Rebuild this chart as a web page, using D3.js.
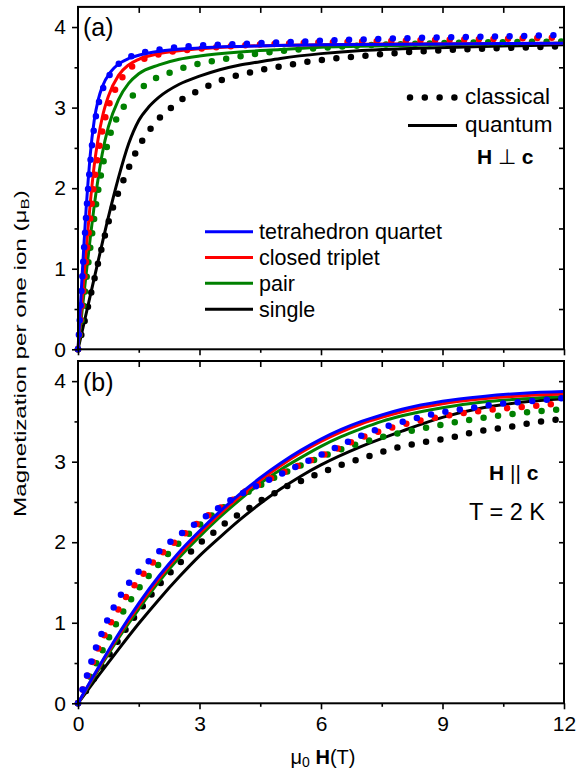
<!DOCTYPE html>
<html><head><meta charset="utf-8">
<script src="https://cdn.jsdelivr.net/npm/d3@7"></script>
<style>
html,body{margin:0;padding:0;background:#fff;}
svg{display:block;font-family:"Liberation Sans",Arial,Helvetica,sans-serif;}
</style></head><body>
<svg id="chart" width="577" height="772"></svg>
<script>
// Magnetization per ion vs field, T = 2 K. Pairs are [mu0 H (T), M (muB)].
const seriesNames  = ["tetrahedron quartet", "closed triplet", "pair", "single"];
const seriesColors = ["#0000ff", "#ff0000", "#008000", "#000000"];
const fieldTicks = [0, 3, 6, 9, 12];
const magTicks   = [0, 1, 2, 3, 4];

// (a) H perpendicular to c — quantum calculation
const aQuantumTetra   = [[0,0],[0.05,0.45],[0.1,0.9],[0.15,1.33],[0.2,1.74],[0.25,2.09],[0.3,2.4],[0.4,2.84],[0.5,3.1],[0.6,3.26],[0.8,3.44],[1.0,3.54],[1.25,3.61],[1.5,3.65],[2,3.7],[3,3.74],[4,3.76],[6,3.78],[9,3.79],[12,3.8]];
const aQuantumTriplet = [[0,0],[0.1,0.62],[0.2,1.22],[0.3,1.8],[0.4,2.28],[0.5,2.62],[0.6,2.88],[0.75,3.14],[1.0,3.4],[1.25,3.53],[1.5,3.6],[2,3.67],[3,3.73],[4,3.76],[6,3.78],[8,3.79],[12,3.8]];
const aQuantumPair    = [[0,0],[0.1,0.47],[0.2,0.93],[0.3,1.37],[0.4,1.78],[0.5,2.13],[0.6,2.43],[0.75,2.76],[1.0,3.1],[1.25,3.3],[1.5,3.42],[2,3.53],[2.5,3.6],[3,3.64],[4,3.69],[5,3.72],[6,3.75],[8,3.77],[10,3.79],[12,3.8]];
const aQuantumSingle  = [[0,0],[0.25,0.55],[0.5,1.1],[0.75,1.64],[1.0,2.13],[1.25,2.55],[1.5,2.84],[1.75,3.01],[2.0,3.13],[2.5,3.29],[3.0,3.39],[3.5,3.47],[4.0,3.53],[4.5,3.57],[5,3.61],[6,3.67],[7,3.71],[8,3.73],[10,3.76],[12,3.78]];

// (a) H perpendicular to c — classical calculation
const aClassicTetra   = [[0,0],[0.05,0.42],[0.1,0.85],[0.15,1.26],[0.2,1.65],[0.25,2.0],[0.3,2.3],[0.4,2.76],[0.5,3.03],[0.6,3.21],[0.8,3.42],[1.0,3.54],[1.25,3.62],[1.5,3.67],[2,3.72],[3,3.77],[4,3.79],[5.5,3.82],[8,3.86],[10,3.88],[12,3.9]];
const aClassicTriplet = [[0,0],[0.1,0.57],[0.2,1.12],[0.3,1.63],[0.4,2.07],[0.5,2.43],[0.62,2.76],[0.75,3.01],[1.0,3.3],[1.25,3.47],[1.5,3.57],[2,3.66],[3,3.73],[4,3.77],[5.5,3.8],[8,3.83],[10,3.85],[12,3.87]];
const aClassicPair    = [[0,0],[0.13,0.53],[0.25,1.05],[0.38,1.55],[0.47,1.88],[0.58,2.2],[0.79,2.66],[1.08,2.97],[1.28,3.11],[1.53,3.23],[1.86,3.35],[2.19,3.42],[2.52,3.48],[2.85,3.53],[3.59,3.6],[4.29,3.66],[5,3.7],[5.7,3.73],[7,3.77],[9,3.8],[12,3.82]];
const aClassicSingle  = [[0,0],[0.2,0.43],[0.38,0.82],[0.54,1.16],[0.71,1.5],[0.91,1.83],[1.04,2.0],[1.19,2.18],[1.33,2.34],[1.47,2.49],[1.64,2.63],[1.84,2.77],[2.05,2.89],[2.33,3.01],[2.62,3.12],[2.93,3.2],[3.26,3.28],[3.59,3.35],[3.93,3.4],[4.29,3.44],[4.63,3.48],[4.99,3.51],[5.69,3.57],[7,3.64],[8.5,3.7],[10,3.73],[12,3.76]];

// (b) H parallel to c — quantum calculation
const bQuantumTetra   = [[0,0],[0.5,0.44],[1,0.86],[1.5,1.24],[2,1.58],[2.5,1.88],[3,2.14],[3.5,2.38],[4,2.6],[4.5,2.8],[5,2.98],[5.5,3.14],[6,3.28],[6.5,3.4],[7,3.5],[7.5,3.58],[8,3.65],[9,3.75],[10,3.81],[11,3.85],[12,3.87]];
const bQuantumTriplet = [[0,0],[0.5,0.43],[1,0.84],[1.5,1.21],[2,1.55],[2.5,1.85],[3,2.11],[3.5,2.35],[4,2.57],[4.5,2.77],[5,2.95],[5.5,3.11],[6,3.25],[6.5,3.37],[7,3.47],[7.5,3.55],[8,3.62],[9,3.72],[10,3.78],[11,3.82],[12,3.84]];
const bQuantumPair    = [[0,0],[0.5,0.41],[1,0.81],[1.5,1.17],[2,1.51],[2.5,1.81],[3,2.07],[3.5,2.31],[4,2.53],[4.5,2.73],[5,2.9],[5.5,3.05],[6,3.19],[6.5,3.31],[7,3.41],[7.5,3.5],[8,3.57],[9,3.67],[10,3.74],[11,3.78],[12,3.81]];
const bQuantumSingle  = [[0,0],[0.5,0.34],[1,0.67],[1.5,0.99],[2,1.29],[2.5,1.57],[3,1.83],[3.5,2.06],[4,2.28],[4.5,2.48],[5,2.66],[5.5,2.82],[6,2.96],[7,3.19],[8,3.38],[9,3.55],[10,3.67],[11,3.74],[12,3.78]];

// (b) H parallel to c — classical calculation
const bClassicTetra   = [[0,0],[0.09,0.14],[0.2,0.31],[0.3,0.47],[0.4,0.63],[0.54,0.81],[0.67,0.97],[0.81,1.12],[0.98,1.28],[1.18,1.44],[1.38,1.57],[1.64,1.71],[1.88,1.83],[2.15,1.95],[2.44,2.07],[2.74,2.17],[3.03,2.28],[3.33,2.38],[3.63,2.48],[3.93,2.57],[4.25,2.66],[4.58,2.74],[4.9,2.82],[5.23,2.9],[5.55,2.98],[5.85,3.05],[6.47,3.2],[7.17,3.36],[8.2,3.52],[8.86,3.6],[9.6,3.66],[10.3,3.71],[11.37,3.76],[12,3.79]];
const bClassicTriplet = [[0,0],[0.13,0.19],[0.25,0.36],[0.38,0.53],[0.5,0.68],[0.67,0.86],[0.81,1.0],[0.98,1.15],[1.16,1.3],[1.37,1.45],[1.59,1.59],[1.82,1.73],[2.07,1.86],[2.34,1.98],[2.62,2.1],[2.89,2.21],[3.18,2.32],[3.49,2.42],[3.8,2.52],[4.1,2.62],[4.75,2.79],[5.4,2.94],[6.35,3.15],[7.0,3.3],[7.66,3.41],[8.36,3.5],[9.1,3.57],[9.76,3.62],[10.5,3.66],[11.2,3.69],[12,3.73]];
const bClassicPair    = [[0,0],[0.3,0.33],[0.6,0.65],[1.0,1.04],[1.42,1.37],[1.88,1.66],[2.37,1.93],[2.8,2.13],[3.3,2.33],[3.8,2.5],[4.4,2.68],[5,2.84],[5.73,3.0],[6.37,3.13],[7.03,3.24],[7.7,3.33],[8.4,3.4],[9.1,3.47],[9.8,3.53],[10.54,3.58],[11.24,3.62],[12,3.65]];
const bClassicSingle  = [[0,0],[0.4,0.31],[0.77,0.6],[1.14,0.89],[1.56,1.18],[2.02,1.48],[2.49,1.73],[2.99,1.98],[3.3,2.1],[3.59,2.22],[3.89,2.32],[4.19,2.41],[4.49,2.51],[4.82,2.6],[5.14,2.69],[5.46,2.75],[5.79,2.82],[6.45,2.95],[7.13,3.06],[7.83,3.17],[8.53,3.24],[9.21,3.3],[9.91,3.38],[10.63,3.43],[11.32,3.49],[12,3.53]];

const svg = d3.select("#chart");
svg.append("rect").attr("width", 577).attr("height", 772).attr("fill", "#fff");

const x = d3.scaleLinear().domain([0, 12]).range([78, 564]);
const DOT_GAP = 14.6;

const panels = [
  { y: d3.scaleLinear().domain([0, 4.25]).range([349.3, 6.9]),
    quantum: [aQuantumTetra, aQuantumTriplet, aQuantumPair, aQuantumSingle],
    classic: [aClassicTetra, aClassicTriplet, aClassicPair, aClassicSingle],
    tag: "(a)", xLabels: false },
  { y: d3.scaleLinear().domain([0, 4.25]).range([703.3, 361.0]),
    quantum: [bQuantumTetra, bQuantumTriplet, bQuantumPair, bQuantumSingle],
    classic: [bClassicTetra, bClassicTriplet, bClassicPair, bClassicSingle],
    tag: "(b)", xLabels: true }
];

function styleAxis(g, width) {
  g.select(".domain").remove();
  g.selectAll("line").attr("stroke", "#000").attr("stroke-width", width);
  g.selectAll("text").attr("fill", "#000").attr("font-size", 21)
    .attr("font-family", "'Liberation Sans', Arial, sans-serif");
}

panels.forEach(p => {
  const [y0, y1] = p.y.range();
  const line = d3.line().x(d => x(d[0])).y(d => p.y(d[1])).curve(d3.curveMonotoneX);
  const plot = svg.append("g");

  // draw from "single" up to "tetrahedron quartet" so blue ends on top
  for (let i = seriesNames.length - 1; i >= 0; i--) {
    plot.append("path").attr("d", line(p.classic[i]))
      .attr("fill", "none").attr("stroke", seriesColors[i])
      .attr("stroke-width", 6.5).attr("stroke-linecap", "round")
      .attr("stroke-dasharray", `0 ${DOT_GAP}`);
    plot.append("path").attr("d", line(p.quantum[i]))
      .attr("fill", "none").attr("stroke", seriesColors[i])
      .attr("stroke-width", 3);
  }

  // left axis (outward ticks)
  svg.append("g").attr("transform", "translate(78,0)")
    .call(d3.axisLeft(p.y).tickValues(magTicks).tickSize(6).tickPadding(6).tickFormat(d3.format("d")))
    .call(g => styleAxis(g, 1.6));
  svg.append("g").attr("transform", "translate(78,0)")
    .call(d3.axisLeft(p.y).tickValues([0.5, 1.5, 2.5, 3.5]).tickSize(3.5).tickFormat(""))
    .call(g => styleAxis(g, 1.6));
  // right axis (inward ticks)
  svg.append("g").attr("transform", "translate(564,0)")
    .call(d3.axisLeft(p.y).tickValues([0.5, 1, 1.5, 2, 2.5, 3, 3.5, 4]).tickSize(5).tickFormat(""))
    .call(g => styleAxis(g, 1.6));
  // top axis (inward ticks)
  svg.append("g").attr("transform", `translate(0,${y1})`)
    .call(d3.axisBottom(x).tickValues([1.5, 3, 4.5, 6, 7.5, 9, 10.5]).tickSize(6).tickFormat(""))
    .call(g => styleAxis(g, 1.6));
  // bottom axis (outward ticks)
  svg.append("g").attr("transform", `translate(0,${y0})`)
    .call(d3.axisBottom(x).tickValues(fieldTicks).tickSize(6).tickPadding(7)
      .tickFormat(p.xLabels ? d3.format("d") : ""))
    .call(g => styleAxis(g, 1.6));
  svg.append("g").attr("transform", `translate(0,${y0})`)
    .call(d3.axisBottom(x).tickValues([1.5, 4.5, 7.5, 10.5]).tickSize(3.5).tickFormat(""))
    .call(g => styleAxis(g, 1.6));

  // frame
  svg.append("rect").attr("x", 78).attr("y", y1).attr("width", 564 - 78).attr("height", y0 - y1)
    .attr("fill", "none").attr("stroke", "#000").attr("stroke-width", 2);

  svg.append("text").attr("x", 83).attr("y", y1 + 29.5)
    .attr("font-size", 25).text(p.tag);
});

// line-type key, panel (a)
const keyLine = d3.line();
svg.append("path").attr("d", keyLine([[410, 97.5], [455, 97.5]]))
  .attr("stroke", "#000").attr("stroke-width", 6.5).attr("stroke-linecap", "round")
  .attr("stroke-dasharray", "0 14.8").attr("fill", "none");
svg.append("path").attr("d", keyLine([[408, 125.5], [457, 125.5]]))
  .attr("stroke", "#000").attr("stroke-width", 3).attr("fill", "none");
svg.append("text").attr("x", 465).attr("y", 103.5).attr("font-size", 22.5).text("classical");
svg.append("text").attr("x", 465).attr("y", 131.5).attr("font-size", 22.5).text("quantum");

const perp = svg.append("text").attr("x", 533.5).attr("y", 163.5).attr("font-size", 21)
  .attr("text-anchor", "end");
perp.append("tspan").attr("font-weight", "bold").text("H");
perp.append("tspan").text(" \u22A5 ");
perp.append("tspan").attr("font-weight", "bold").text("c");

// cluster key, panel (a)
const keyY = [231.7, 257.5, 283.3, 309.2];
seriesNames.forEach((name, i) => {
  svg.append("path").attr("d", keyLine([[205, keyY[i]], [253, keyY[i]]]))
    .attr("stroke", seriesColors[i]).attr("stroke-width", 3).attr("fill", "none");
  svg.append("text").attr("x", 259).attr("y", keyY[i] + 7.5).attr("font-size", 21.5).text(name);
});

// panel (b) annotations
const par = svg.append("text").attr("x", 538.5).attr("y", 480).attr("font-size", 21)
  .attr("text-anchor", "end");
par.append("tspan").attr("font-weight", "bold").text("H");
par.append("tspan").text(" || ");
par.append("tspan").attr("font-weight", "bold").text("c");
svg.append("text").attr("x", 545).attr("y", 520).attr("font-size", 23.5)
  .attr("text-anchor", "end").text("T = 2 K");

// axis titles
const xt = svg.append("text").attr("x", 323).attr("y", 764).attr("font-size", 20)
  .attr("text-anchor", "middle");
xt.append("tspan").text("\u03BC");
xt.append("tspan").attr("font-size", 14).attr("dy", 3).text("0");
xt.append("tspan").attr("dy", -3).text(" ");
xt.append("tspan").attr("font-weight", "bold").text("H");
xt.append("tspan").text("(T)");

const yg = svg.append("g").attr("transform", "translate(25.7,353.5) rotate(-90)");
const yt = yg.append("text").attr("font-size", 16.5).attr("text-anchor", "middle");
yt.append("tspan").text("Magnetization per one ion (\u03BC");
yt.append("tspan").attr("font-size", 11.5).attr("dy", 3.5).text("B");
yt.append("tspan").attr("dy", -3.5).text(")");
const natural = yt.node().getComputedTextLength();
yt.attr("transform", `scale(${327 / natural},1)`);
</script></body></html>
